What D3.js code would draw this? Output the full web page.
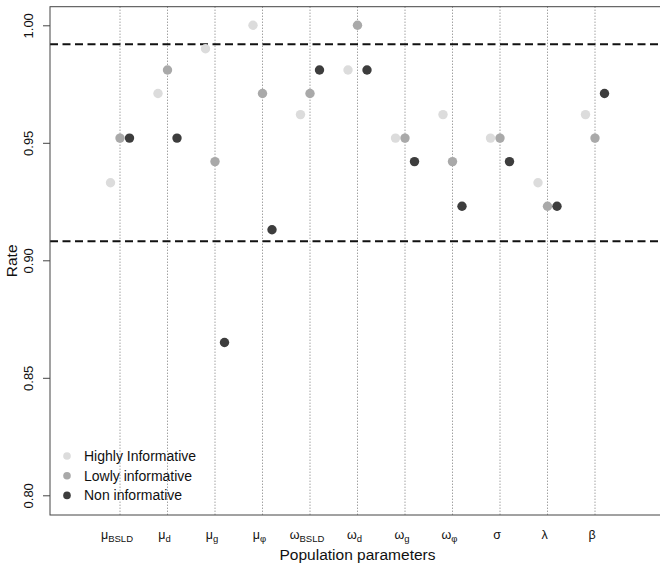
<!DOCTYPE html>
<html>
<head>
<meta charset="utf-8">
<script src="https://cdn.jsdelivr.net/npm/d3@7"></script>
<style>
  body { margin: 0; background: #fff; }
  text { font-family: "Liberation Sans", Arial, sans-serif; }
</style>
</head>
<body>
<div id="chart"></div>
<script>
// parameters: greek letter + subscript
const paramSymbols = ["μ", "μ", "μ", "μ", "ω", "ω", "ω", "ω", "σ", "λ", "β"];
const paramSubs    = ["BSLD", "d", "g", "φ", "BSLD", "d", "g", "φ", "", "", ""];

// coverage rates per prior
const highlyInf = [0.933, 0.971, 0.990, 1.000, 0.962, 0.981, 0.952, 0.962, 0.952, 0.933, 0.962];
const lowlyInf  = [0.952, 0.981, 0.942, 0.971, 0.971, 1.000, 0.952, 0.942, 0.952, 0.923, 0.952];
const nonInf    = [0.952, 0.952, 0.865, 0.913, 0.981, 0.981, 0.942, 0.923, 0.942, 0.923, 0.971];

const seriesNames = ["Highly Informative", "Lowly informative", "Non informative"];
const yTicks = [0.80, 0.85, 0.90, 0.95, 1.00];
const ciBounds = [0.9919, 0.9081];

const W = 660, H = 564;
const box = { left: 50, top: 6.7, right: 665, bottom: 515 };

const svg = d3.select("#chart").append("svg")
  .attr("width", W).attr("height", H);

// scales
const x = d3.scaleLinear().domain([1, 11]).range([120, 595]);
const y = d3.scaleLinear().domain([0.8, 1.0]).range([495.3, 25.3]);

const colors = ["#dcdcdc", "#a9a9a9", "#3d3d3d"];
const offsets = [-0.2, 0, 0.2];

// vertical dotted guides
svg.append("g").selectAll("line")
  .data(d3.range(1, 12))
  .join("line")
    .attr("x1", d => x(d)).attr("x2", d => x(d))
    .attr("y1", box.top).attr("y2", box.bottom)
    .attr("stroke", "#555").attr("stroke-width", 0.8)
    .attr("stroke-dasharray", "1,2");

// dashed CI lines
svg.append("g").selectAll("line")
  .data(ciBounds)
  .join("line")
    .attr("x1", box.left).attr("x2", box.right)
    .attr("y1", d => y(d)).attr("y2", d => y(d))
    .attr("stroke", "#111").attr("stroke-width", 2)
    .attr("stroke-dasharray", "8,4.5");

// points
const series = [highlyInf, lowlyInf, nonInf];
series.forEach((vals, s) => {
  svg.append("g").selectAll("circle")
    .data(vals)
    .join("circle")
      .attr("cx", (d, i) => x(i + 1 + offsets[s]))
      .attr("cy", d => y(d))
      .attr("r", 4.7)
      .attr("fill", colors[s]);
});

// box
svg.append("rect")
  .attr("x", box.left).attr("y", box.top)
  .attr("width", box.right - box.left).attr("height", box.bottom - box.top)
  .attr("fill", "none").attr("stroke", "#444").attr("stroke-width", 1);

// y axis
const yAxis = svg.append("g")
  .attr("transform", `translate(${box.left},0)`)
  .call(d3.axisLeft(y).tickValues(yTicks).tickFormat(d3.format(".2f")).tickSize(7).tickPadding(0));
yAxis.select(".domain").remove();
yAxis.selectAll(".tick line").attr("stroke", "#444");
yAxis.selectAll(".tick text")
  .attr("x", 0).attr("y", 0).attr("dy", null)
  .attr("text-anchor", "middle")
  .attr("transform", "translate(-22,0) rotate(-90) translate(0,4.5)")
  .attr("font-size", 13).attr("fill", "#111")
  .style("font-family", "'Liberation Sans', Arial, sans-serif");

// x category labels
const xl = svg.append("g").selectAll("text")
  .data(paramSymbols)
  .join("text")
    .attr("x", (d, i) => x(i + 1) - 3)
    .attr("y", 539)
    .attr("text-anchor", "middle")
    .attr("font-size", 12.5)
    .attr("fill", "#111");
xl.append("tspan").text(d => d);
xl.append("tspan")
  .attr("font-size", 9.5)
  .attr("dy", 3)
  .text((d, i) => paramSubs[i]);

// axis titles
svg.append("text")
  .attr("x", (box.left + box.right) / 2).attr("y", 560)
  .attr("text-anchor", "middle").attr("font-size", 15.5).attr("fill", "#111")
  .text("Population parameters");
svg.append("text")
  .attr("transform", `translate(17,${(box.top + box.bottom) / 2}) rotate(-90)`)
  .attr("text-anchor", "middle").attr("font-size", 15.5).attr("fill", "#111")
  .text("Rate");

// legend
const leg = svg.append("g").selectAll("g")
  .data(seriesNames)
  .join("g")
    .attr("transform", (d, i) => `translate(67,${456 + i * 19.7})`);
leg.append("circle").attr("r", 3.8).attr("fill", (d, i) => colors[i]);
leg.append("text")
  .attr("x", 17).attr("y", 5)
  .attr("font-size", 14).attr("fill", "#111")
  .text(d => d);
</script>
</body>
</html>
